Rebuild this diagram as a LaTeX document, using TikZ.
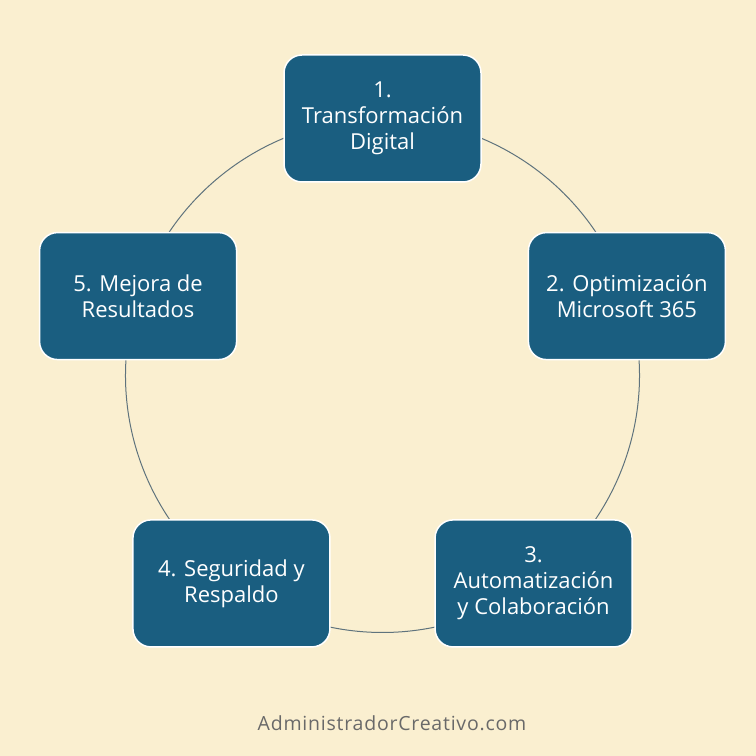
\documentclass[tikz,border=0pt]{standalone}
\usepackage{fontspec}
\setsansfont{Open Sans}
\usetikzlibrary{positioning}
\usetikzlibrary{backgrounds}
\definecolor{paper}{RGB}{250,239,208}
\definecolor{boxblue}{RGB}{26,94,128}
\definecolor{ringgray}{RGB}{95,115,125}
\definecolor{footgray}{RGB}{105,105,105}
\tikzset{main node/.style={shape=rectangle,
    draw=white, line width=1.5pt, rounded corners=18pt,
    fill=boxblue, text=white, align=center, inner sep=0pt,
    minimum width=197pt, minimum height=127pt,
    font=\sffamily\fontsize{22}{26}\selectfont}}
\tikzset{ring/.style={draw=ringgray, line width=1pt}}

\begin{document}
\begin{tikzpicture}[x=1pt,y=1pt]
    \coordinate (c) at (382.5,380.5);

    \node[main node] (1) at ([shift={(90:257)}]c) {1.\\Transformación\\Digital};
    \node[main node] (2) at ([shift={(18:257)}]c) {2. Optimización\\Microsoft 365};
    \node[main node] (3) at ([shift={(-54:257)}]c) {3.\\Automatización\\y Colaboración};
    \node[main node] (4) at ([shift={(-126:257)}]c) {4. Seguridad y\\Respaldo};
    \node[main node] (5) at ([shift={(162:257)}]c) {5. Mejora de\\Resultados};

    \node[text=footgray, font=\sffamily\fontsize{19.5}{22}\selectfont\addfontfeatures{LetterSpace=4}] (web) at (392,33) {AdministradorCreativo.com};

    % paper and ring behind the boxes
    \begin{pgfonlayer}{background}
    \fill[paper] (0,0) rectangle (756,756);
    \path[ring]
    (1.center) arc[start angle=90, end angle=18, radius=257]
    (2.center) arc[start angle=18, end angle=-54, radius=257]
    (3.center) arc[start angle=-54, end angle=-126, radius=257]
    (4.center) arc[start angle=-126, end angle=-198, radius=257]
    (5.center) arc[start angle=162, end angle=90, radius=257]
    ;
    \end{pgfonlayer}
\end{tikzpicture}
\end{document}
